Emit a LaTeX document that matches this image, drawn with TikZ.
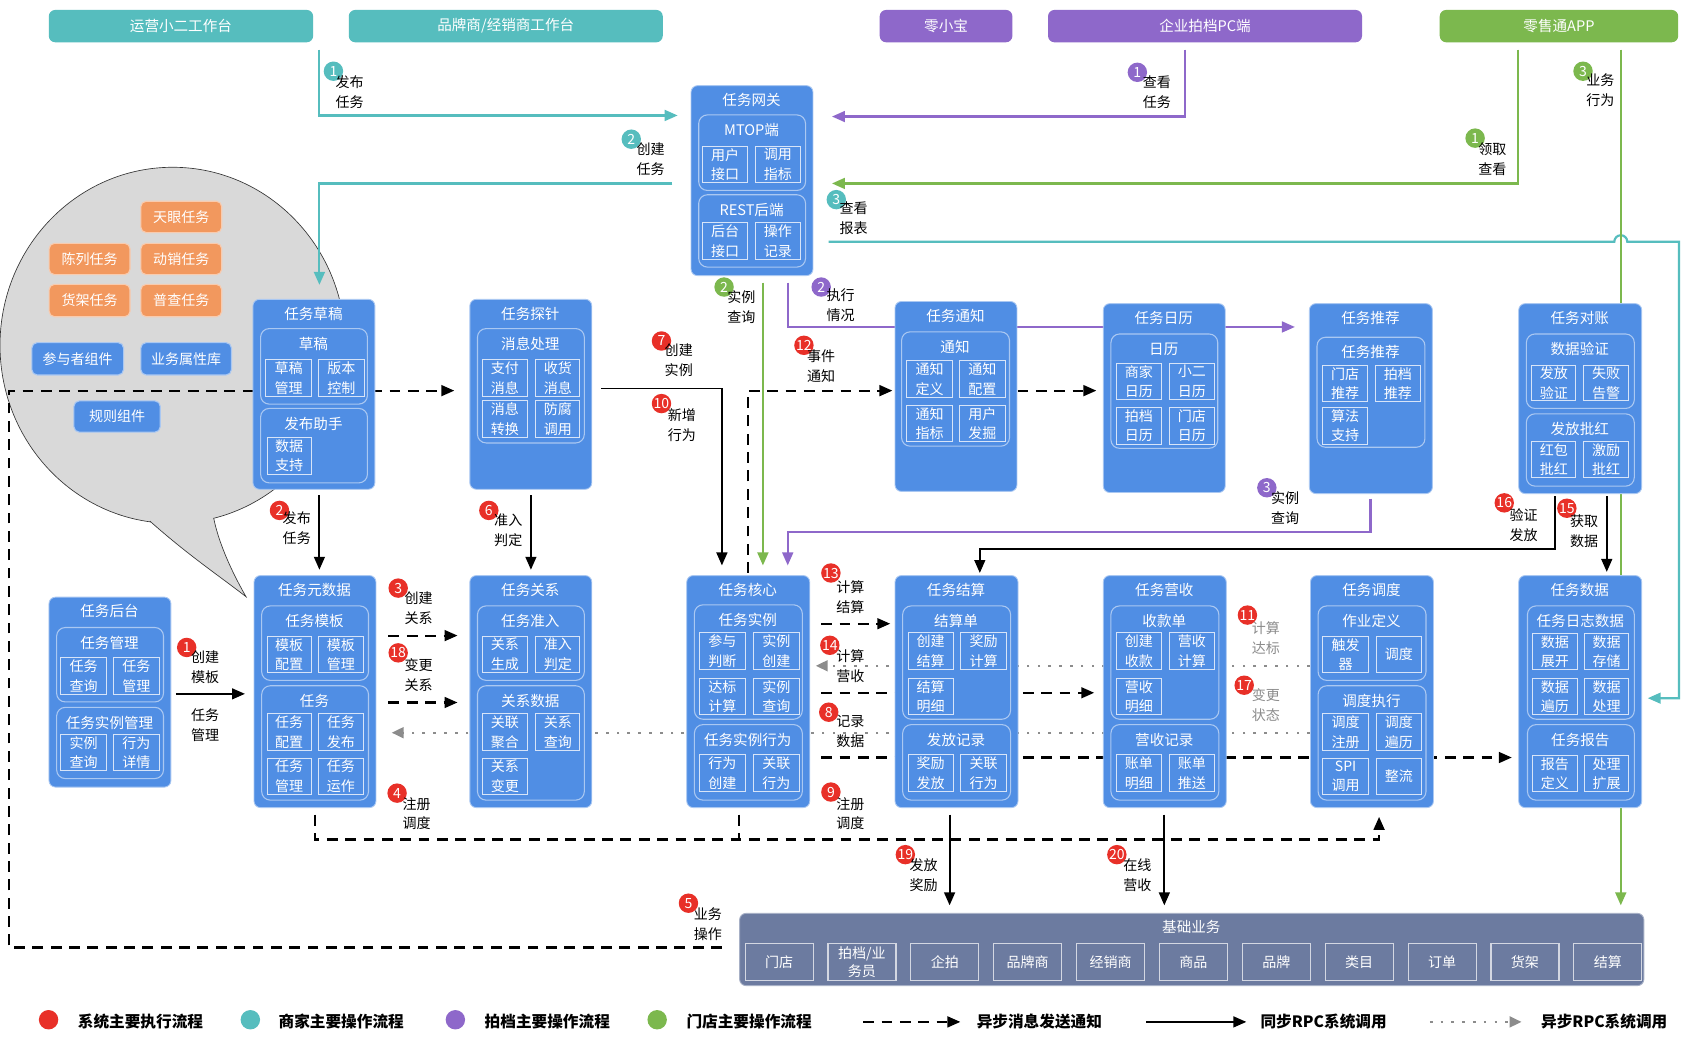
\documentclass[tikz,border=0pt]{standalone}
\usepackage{fontspec}
\setmainfont{Noto Sans CJK SC}
\usetikzlibrary{arrows.meta}
\definecolor{boxblue}{RGB}{80,142,228}
\definecolor{bline}{RGB}{170,200,242}
\definecolor{sline}{RGB}{215,228,248}
\definecolor{tealc}{RGB}{86,189,190}
\definecolor{purc}{RGB}{142,104,202}
\definecolor{grnc}{RGB}{124,184,78}
\definecolor{orgc}{RGB}{242,152,94}
\definecolor{slatec}{RGB}{108,123,160}
\definecolor{redc}{RGB}{232,48,40}
\definecolor{bubg}{RGB}{217,217,217}
\definecolor{dotg}{RGB}{140,140,140}
\newcounter{nc}
\tikzset{
 bigbox/.style={draw=bline,line width=0.8pt,fill=boxblue,rounded corners=6pt,inner sep=0,anchor=north west},
 innerb/.style={draw=bline,line width=1pt,rounded corners=8pt,inner sep=0,anchor=north west},
 smallb/.style={draw=sline,line width=0.9pt,inner sep=0,text=white,align=center,anchor=north west,font=\fontsize{13}{18}\selectfont},
 ttl/.style={text=white,inner sep=0,font=\fontsize{13.5}{16}\selectfont},
 bar/.style={rounded corners=6pt,inner sep=0,text=white,anchor=north west,minimum height=30pt,font=\fontsize{13.5}{16}\selectfont},
 chip/.style={rounded corners=5pt,inner sep=0,text=white,anchor=north west,line width=1pt,font=\fontsize{13}{16}\selectfont},
 basebox/.style={fill=slatec,draw=slatec!60!white,line width=0.8pt,rounded corners=6pt,inner sep=0,anchor=north west},
 basesm/.style={fill=slatec,draw=white!70!slatec,line width=1pt,inner sep=0,text=white,align=center,anchor=north west,minimum width=63pt,minimum height=34pt,font=\fontsize{13}{17}\selectfont},
 numc/.style={circle,minimum size=18pt,inner sep=0,text=white,font=\fontsize{13}{13}\selectfont},
 lbl/.style={align=center,inner sep=0,font=\fontsize{13}{18.5}\selectfont},
 legt/.style={inner sep=0,anchor=west,font=\bfseries\fontsize{14.5}{16}\selectfont},
 arr/.style={-{Triangle[length=12pt,width=10pt]}},
 tl/.style={tealc,line width=2pt,arr},
 pl/.style={purc,line width=2pt,arr},
 gl/.style={grnc,line width=2pt,arr},
 bl/.style={black,line width=1.8pt,arr},
 dl/.style={black,line width=2pt,dash pattern=on 10pt off 7pt,arr},
 dotl/.style={dotg,line width=2pt,dash pattern=on 2.5pt off 7.5pt,-{Triangle[length=11pt,width=10pt]}},
}
\newcommand\BB[6]{\node[bigbox,minimum width=#4pt,minimum height=#5pt] (#1) at (#2,#3) {};
 \node[ttl] (#1t) at ({#2+#4/2},{#3+13.5}) {#6};}
\newcommand\IB[5]{\stepcounter{nc}\node[innerb,minimum width=#3pt,minimum height=#4pt] (i\arabic{nc}) at (#1,#2) {};
 \node[ttl] (it\arabic{nc}) at ({#1+#3/2},{#2+14.5}) {#5};}
\newcommand\SB[5]{\stepcounter{nc}\node[smallb,minimum width=#3pt,minimum height=#4pt] (s\arabic{nc}) at (#1,#2) {#5};}
\newcommand\LB[8][]{\stepcounter{nc}\node[numc,fill=#2] (c\arabic{nc}) at (#4,#5) {#3};
 \node[lbl,#1] (l\arabic{nc}) at (#6,#7) {#8};}
\begin{document}
\begin{tikzpicture}[x=1pt,y=-1pt]
\useasboundingbox (0,0) rectangle (1568,966);
\fill[white] (0,0) rectangle (1568,966);
% speech bubble
\fill[bubg] (160,320) ellipse [x radius=160, y radius=165];
\draw[line width=0.6pt,black!80] (160,320) ellipse [x radius=160, y radius=165];
\fill[bubg] (139,483) .. controls (175,515) and (205,535) .. (228,553) .. controls (212,525) and (202,500) .. (198,480) -- (168,468) -- cycle;
\draw[line width=0.6pt,black!80] (139,483) .. controls (175,515) and (205,535) .. (228,553) .. controls (212,525) and (202,500) .. (198,480);
% ---------- connectors ----------
% teal
\draw[tl] (296,46) |- (628,107);
\draw[tl] (623,170) -| (296,264);
\draw[tl] (768,224) -- (1496,224) arc[start angle=180,end angle=360,radius=6] -- (1556,224) |- (1527,647);
% purple
\draw[pl] (1098,46) |- (771,108);
\draw[pl] (730,262) |- (1200,303);
\draw[pl] (1270,462) |- (730,493) -- (730,524);
% green
\draw[gl] (1407,46) |- (771,170);
\draw[gl] (707,262) -- (707,524);
\draw[gl] (1502,46) -- (1502,839);
% black solid
\draw[bl] (163,643) -- (227,643);
\draw[bl] (296,459) -- (296,528);
\draw[bl] (492,459) -- (492,528);
\draw[bl] (557,360) -| (669,524);
\draw[bl] (1441,460) |- (908,509) -- (908,531);
\draw[bl] (1489,460) -- (1489,530);
\draw[bl] (880,755) -- (880,839);
\draw[bl] (1079,755) -- (1079,839);
% black dashed
\draw[dl] (669,878) -- (8,878) -- (8,362) -- (421,362);
\draw[dl] (693,531) -- (693,362) -- (827,362);
\draw[dl] (943,362) -- (1016,362);
\draw[dl] (360,589) -- (424,589);
\draw[dl] (360,651) -- (424,651);
\draw[dl] (292,755) -- (292,778) -- (1278,778) -- (1278,757);
\draw[black,line width=2pt,dash pattern=on 10pt off 7pt] (685,755) -- (685,778);
\draw[dl] (761,578) -- (825,578);
\draw[dl] (761,642) -- (1014,642);
\draw[dl] (761,702) -- (1401,702);
% gray dotted
\draw[dotl] (1214,617) -- (756,617);
\draw[dotl] (1214,679) -- (363,679);
% ---------- top bars ----------
\node[bar,fill=tealc,minimum width=245pt] (ops) at (45,9) {运营小二工作台};
\node[bar,fill=tealc,minimum width=291pt] (brand) at (323,9) {品牌商/经销商工作台};
\node[bar,fill=purc,minimum width=123pt] (lxb) at (815,9) {零小宝};
\node[bar,fill=purc,minimum width=291pt] (pc) at (971,9) {企业拍档PC端};
\node[bar,fill=grnc,minimum width=221pt] (app) at (1334,9) {零售通APP};
% ---------- gateway ----------
\BB{gw}{640}{79}{113}{176}{任务网关}
\IB{647}{106}{99}{70}{MTOP端}
\SB{651}{135}{41}{34}{用户\\接口}\SB{700}{135}{41}{34}{调用\\指标}
\IB{647}{180}{99}{67}{REST后端}
\SB{651}{206}{41}{34}{后台\\接口}\SB{700}{206}{41}{34}{操作\\记录}
% ---------- row 1 ----------
\BB{draft}{234}{277}{113}{176}{任务草稿}
\IB{241}{304}{99}{70}{草稿}
\SB{246}{333}{42}{34}{草稿\\管理}\SB{295}{333}{42}{34}{版本\\控制}
\IB{241}{378}{99}{69}{发布助手}
\SB{247}{405}{41}{34}{数据\\支持}
\BB{probe}{435}{277}{113}{176}{任务探针}
\IB{442}{304}{99}{106}{消息处理}
\SB{447}{333}{41}{34}{支付\\消息}\SB{496}{333}{41}{34}{收货\\消息}
\SB{447}{371}{41}{34}{消息\\转换}\SB{496}{371}{41}{34}{防腐\\调用}
\BB{notice}{829}{279}{113}{176}{任务通知}
\IB{835}{307}{100}{106}{通知}
\SB{840}{334}{42}{34}{通知\\定义}\SB{889}{334}{42}{34}{通知\\配置}
\SB{840}{375}{42}{34}{通知\\指标}\SB{889}{375}{42}{34}{用户\\发掘}
\BB{cal}{1022}{281}{113}{175}{任务日历}
\IB{1029}{309}{99}{106}{日历}
\SB{1034}{336}{42}{34}{商家\\日历}\SB{1083}{336}{42}{34}{小二\\日历}
\SB{1034}{377}{42}{34}{拍档\\日历}\SB{1083}{377}{42}{34}{门店\\日历}
\BB{rec}{1213}{281}{114}{176}{任务推荐}
\IB{1220}{312}{100}{102}{任务推荐}
\SB{1225}{338}{42}{34}{门店\\推荐}\SB{1274}{338}{42}{34}{拍档\\推荐}
\SB{1225}{377}{42}{34}{算法\\支持}
\BB{recon}{1407}{281}{114}{176}{任务对账}
\IB{1414}{309}{100}{69}{数据验证}
\SB{1419}{338}{41}{33}{发放\\验证}\SB{1467}{338}{42}{33}{失败\\告警}
\IB{1414}{383}{100}{67}{发放批红}
\SB{1419}{409}{41}{33}{红包\\批红}\SB{1467}{409}{42}{33}{激励\\批红}
% ---------- row 2 ----------
\BB{back}{45}{553}{113}{176}{任务后台}
\IB{52}{581}{99}{69}{任务管理}
\SB{56}{609}{42}{34}{任务\\查询}\SB{105}{609}{42}{34}{任务\\管理}
\IB{52}{655}{99}{66}{任务实例管理}
\SB{56}{680}{42}{34}{实例\\查询}\SB{105}{680}{42}{34}{行为\\详情}
\BB{meta}{235}{533}{113}{215}{任务元数据}
\IB{242}{561}{99}{69}{任务模板}
\SB{247}{589}{41}{34}{模板\\配置}\SB{295}{589}{41}{34}{模板\\管理}
\IB{242}{635}{99}{106}{任务}
\SB{247}{661}{41}{34}{任务\\配置}\SB{295}{661}{41}{34}{任务\\发布}
\SB{247}{702}{41}{34}{任务\\管理}\SB{295}{702}{41}{34}{任务\\运作}
\BB{rel}{435}{533}{113}{215}{任务关系}
\IB{442}{561}{99}{69}{任务准入}
\SB{447}{589}{41}{34}{关系\\生成}\SB{496}{589}{41}{34}{准入\\判定}
\IB{442}{635}{99}{106}{关系数据}
\SB{447}{661}{41}{34}{关联\\聚合}\SB{496}{661}{41}{34}{关系\\查询}
\SB{447}{702}{41}{34}{关系\\变更}
\BB{core}{636}{533}{114}{215}{任务核心}
\IB{643}{560}{100}{106}{任务实例}
\SB{648}{586}{42}{34}{参与\\判断}\SB{698}{586}{42}{34}{实例\\创建}
\SB{648}{628}{42}{34}{达标\\计算}\SB{698}{628}{42}{34}{实例\\查询}
\IB{643}{671}{100}{70}{任务实例行为}
\SB{648}{699}{42}{34}{行为\\创建}\SB{698}{699}{42}{34}{关联\\行为}
\BB{settle}{829}{533}{114}{215}{任务结算}
\IB{836}{561}{100}{105}{结算单}
\SB{841}{586}{42}{34}{创建\\结算}\SB{890}{586}{42}{34}{奖励\\计算}
\SB{841}{628}{42}{34}{结算\\明细}
\IB{836}{671}{100}{70}{发放记录}
\SB{841}{699}{42}{34}{奖励\\发放}\SB{890}{699}{42}{34}{关联\\行为}
\BB{rev}{1022}{533}{114}{215}{任务营收}
\IB{1029}{561}{100}{105}{收款单}
\SB{1034}{586}{42}{34}{创建\\收款}\SB{1083}{586}{42}{34}{营收\\计算}
\SB{1034}{628}{42}{34}{营收\\明细}
\IB{1029}{671}{100}{70}{营收记录}
\SB{1034}{699}{42}{34}{账单\\明细}\SB{1083}{699}{42}{34}{账单\\推送}
\BB{sched}{1214}{533}{114}{215}{任务调度}
\IB{1221}{561}{100}{69}{作业定义}
\SB{1225}{589}{43}{34}{触发\\器}\SB{1275}{589}{42}{34}{调度}
\IB{1221}{635}{100}{106}{调度执行}
\SB{1225}{661}{43}{34}{调度\\注册}\SB{1275}{661}{42}{34}{调度\\遍历}
\SB{1225}{702}{43}{34}{SPI\\调用}\SB{1275}{702}{42}{34}{整流}
\BB{tdata}{1407}{533}{114}{215}{任务数据}
\IB{1415}{561}{99}{105}{任务日志数据}
\SB{1420}{587}{41}{33}{数据\\展开}\SB{1468}{587}{41}{33}{数据\\存储}
\SB{1420}{628}{41}{34}{数据\\遍历}\SB{1468}{628}{41}{34}{数据\\处理}
\IB{1415}{671}{99}{70}{任务报告}
\SB{1420}{700}{41}{33}{报告\\定义}\SB{1468}{700}{41}{33}{处理\\扩展}
% ---------- base ----------
\node[basebox,minimum width=838pt,minimum height=67pt] (base) at (685,846) {};
\node[ttl] (baset) at (1104,859) {基础业务};
\foreach \t [count=\i from 0] in {门店,{拍档/业\\务员},企拍,品牌商,经销商,商品,品牌,类目,订单,货架,结算}
 {\node[basesm] (bs\i) at ({690+76.8*\i},874) {\t};}
% ---------- bubble chips ----------
\node[chip,fill=orgc,draw=orgc!50!white,minimum width=75pt,minimum height=29pt] (k1) at (130,186) {天眼任务};
\node[chip,fill=orgc,draw=orgc!50!white,minimum width=75pt,minimum height=29pt] (k2) at (45,225) {陈列任务};
\node[chip,fill=orgc,draw=orgc!50!white,minimum width=75pt,minimum height=29pt] (k3) at (130,225) {动销任务};
\node[chip,fill=orgc,draw=orgc!50!white,minimum width=75pt,minimum height=30pt] (k4) at (45,263) {货架任务};
\node[chip,fill=orgc,draw=orgc!50!white,minimum width=75pt,minimum height=30pt] (k5) at (130,263) {普查任务};
\node[chip,fill=boxblue,draw=bline,minimum width=85pt,minimum height=30pt] (k6) at (29,317) {参与者组件};
\node[chip,fill=boxblue,draw=bline,minimum width=84pt,minimum height=30pt] (k7) at (130,317) {业务属性库};
\node[chip,fill=boxblue,draw=bline,minimum width=80pt,minimum height=29pt] (k8) at (68,371) {规则组件};
% ---------- labels ----------
\LB{tealc}{1}{309}{66}{324}{85}{发布\\任务}
\LB{tealc}{2}{585}{129}{603}{147.5}{创建\\任务}
\LB{tealc}{3}{775}{185}{791}{202.5}{查看\\报表}
\LB{purc}{1}{1054}{67}{1072}{85}{查看\\任务}
\LB{purc}{2}{761}{266}{779}{282.5}{执行\\情况}
\LB{purc}{3}{1174}{452}{1191}{470.5}{实例\\查询}
\LB{grnc}{1}{1367}{128}{1383}{147.5}{领取\\查看}
\LB{grnc}{2}{671}{266}{687}{284.5}{实例\\查询}
\LB{grnc}{3}{1467}{66}{1483}{83.5}{业务\\行为}
\LB{redc}{1}{173}{600}{190}{618}{创建\\模板}
\node[lbl] (tmgr) at (190,672) {任务\\管理};
\LB{redc}{2}{259}{473}{275}{489.5}{发布\\任务}
\LB{redc}{3}{369}{545}{388}{563.5}{创建\\关系}
\LB{redc}{4}{368}{735}{386}{754}{注册\\调度}
\LB{redc}{5}{638}{837}{656}{856.5}{业务\\操作}
\LB{redc}{6}{453}{473}{471}{491}{准入\\判定}
\LB{redc}{7}{613}{316}{629}{333.5}{创建\\实例}
\LB{redc}{8}{768}{660}{788}{677.5}{记录\\数据}
\LB{redc}{9}{770}{734}{788}{754}{注册\\调度}
\LB{redc}{10}{613}{374}{632}{394}{新增\\行为}
\LB[text=dotg]{redc}{11}{1156}{570}{1173}{591.5}{计算\\达标}
\LB{redc}{12}{745}{320}{761}{339}{事件\\通知}
\LB{redc}{13}{770}{531}{788}{553}{计算\\结算}
\LB{redc}{14}{769}{598}{788}{617.5}{计算\\营收}
\LB{redc}{15}{1452}{471}{1468}{492}{获取\\数据}
\LB{redc}{16}{1394}{466}{1412}{486.5}{验证\\发放}
\LB[text=dotg]{redc}{17}{1153}{635}{1173}{653.5}{变更\\状态}
\LB{redc}{18}{369}{605}{388}{625.5}{变更\\关系}
\LB{redc}{19}{839}{792}{856}{811}{发放\\奖励}
\LB{redc}{20}{1035}{792}{1054}{811}{在线\\营收}
% ---------- legend ----------
\node[circle,fill=redc,minimum size=18pt,inner sep=0] (lg1) at (45,945) {};
\node[legt] (lg1t) at (72,947) {系统主要执行流程};
\node[circle,fill=tealc,minimum size=18pt,inner sep=0] (lg2) at (232,945) {};
\node[legt] (lg2t) at (258,947) {商家主要操作流程};
\node[circle,fill=purc,minimum size=18pt,inner sep=0] (lg3) at (422,945) {};
\node[legt] (lg3t) at (449,947) {拍档主要操作流程};
\node[circle,fill=grnc,minimum size=18pt,inner sep=0] (lg4) at (609,945) {};
\node[legt] (lg4t) at (636,947) {门店主要操作流程};
\coordinate (la1) at (800,947); \coordinate (la2) at (890,947);
\draw[dl] (la1) -- (la2);
\node[legt] (lg5t) at (905,947) {异步消息发送通知};
\coordinate (lb1) at (1062,947); \coordinate (lb2) at (1155,947);
\draw[bl] (lb1) -- (lb2);
\node[legt] (lg6t) at (1168,947) {同步RPC系统调用};
\coordinate (lc1) at (1325,947); \coordinate (lc2) at (1410,947);
\draw[dotl] (lc1) -- (lc2);
\node[legt] (lg7t) at (1428,947) {异步RPC系统调用};
\end{tikzpicture}
\end{document}
